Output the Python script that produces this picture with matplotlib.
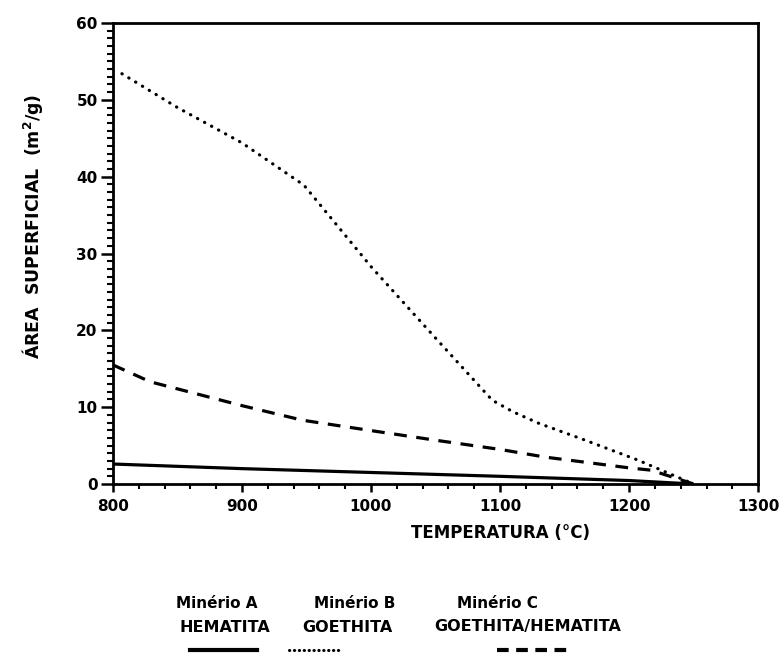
import numpy as np
import matplotlib.pyplot as plt
from matplotlib.lines import Line2D
from matplotlib.ticker import MultipleLocator

plt.rcParams['font.family'] = ['DejaVu Sans']
plt.rcParams['font.weight'] = 'bold'
plt.rcParams['mathtext.default'] = 'bf'

# data
temp_a = [800, 900, 1000, 1100, 1200, 1250]
area_a = [2.6, 2.0, 1.5, 1.0, 0.45, 0.0]

temp_b = [807, 850, 900, 948, 1000, 1050, 1094, 1110, 1130, 1166, 1207, 1250]
area_b = [53.4, 49.0, 44.4, 38.9, 28.3, 19.0, 10.9, 9.4, 7.9, 5.7, 3.1, 0.0]

temp_c = [800, 829, 900, 947, 1006, 1050, 1100, 1135, 1200, 1217, 1250]
area_c = [15.5, 13.3, 10.2, 8.3, 6.8, 5.7, 4.5, 3.5, 2.1, 1.8, 0.0]

xticks = [800, 900, 1000, 1100, 1200, 1300]
yticks = [0, 10, 20, 30, 40, 50, 60]

fig = plt.figure(figsize=(7.84, 6.54), dpi=100)
ax = fig.add_axes([0.144, 1 - 484 / 654, 0.823, 461 / 654])

ax.plot(temp_a, area_a, color='black', lw=2.3, solid_capstyle='butt')
ax.plot(temp_b, area_b, color='black', lw=2.3, linestyle=(0, (0.1, 2.4)),
        dash_capstyle='round')
ax.plot(temp_c, area_c, color='black', lw=2.3, linestyle=(0, (4, 3)))

ax.set_xlim(800, 1300)
ax.set_ylim(0, 60)
ax.set_xticks(xticks)
ax.set_xticklabels(['800', '900', '1000', '1100', '1200', '1300'])
ax.set_yticks(yticks)
ax.set_yticklabels(['0', '10', '20', '30', '40', '50', '60'])
ax.xaxis.set_minor_locator(MultipleLocator(20))
ax.yaxis.set_minor_locator(MultipleLocator(1))
ax.tick_params(axis='x', which='major', direction='out', length=6, width=1.8,
               labelsize=11, pad=5, top=False)
ax.tick_params(axis='x', which='minor', direction='out', length=3.5,
               width=1.5, top=False)
ax.tick_params(axis='y', which='major', direction='out', length=9, width=1.8,
               labelsize=11, pad=2, right=False)
ax.tick_params(axis='y', which='minor', direction='out', length=4.5,
               width=1.5, right=False)
for lab in ax.get_xticklabels() + ax.get_yticklabels():
    lab.set_fontweight('bold')
for s in ax.spines.values():
    s.set_linewidth(2)

fig.text(0.638, 1 - 533 / 654, 'TEMPERATURA (°C)', ha='center', va='center',
         fontsize=12, fontweight='bold')
fig.text(0.041, 1 - 226 / 654, 'ÁREA  SUPERFICIAL  (m$^2$/g)', ha='center',
         va='center', rotation=90, fontsize=12.5, fontweight='bold')

# legend below the plot
names = ['Minério A', 'Minério B', 'Minério C']
kinds = ['HEMATITA', 'GOETHITA', 'GOETHITA/HEMATITA']
name_x = [0.276, 0.452, 0.634]
kind_x = [0.287, 0.443, 0.673]
for x, t in zip(name_x, names):
    fig.text(x, 1 - 603 / 654, t, ha='center', va='center', fontsize=11,
             fontweight='bold')
for x, t in zip(kind_x, kinds):
    fig.text(x, 1 - 627 / 654, t, ha='center', va='center', fontsize=11.5,
             fontweight='bold')
y_s = 1 - 650 / 654
fig.add_artist(Line2D([0.242, 0.328], [y_s, y_s], color='black', lw=3))
fig.add_artist(Line2D([0.368, 0.432], [y_s, y_s], color='black', lw=2.2,
                      linestyle=(0, (0.1, 1.5)), dash_capstyle='round'))
fig.add_artist(Line2D([0.634, 0.727], [y_s, y_s], color='black', lw=3,
                      linestyle=(0, (2.8, 1.8))))

fig.savefig('out.png', dpi=100)
